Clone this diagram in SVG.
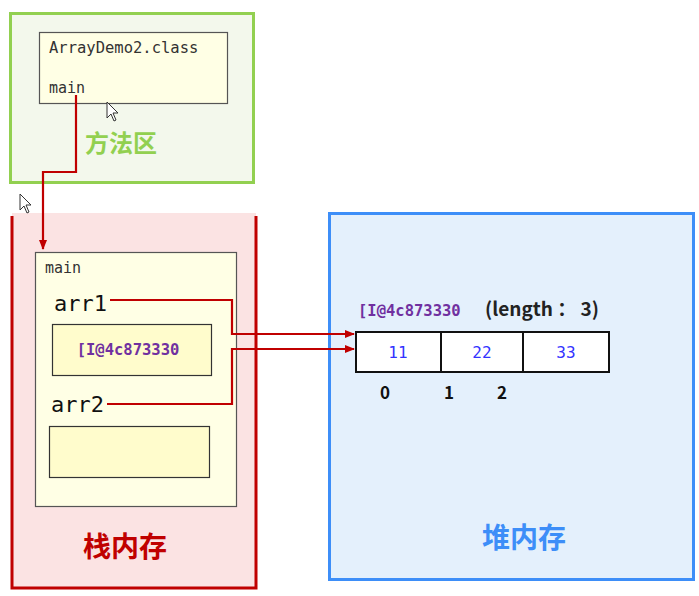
<svg xmlns="http://www.w3.org/2000/svg" width="699" height="596" viewBox="0 0 699 596">
<defs>
<style>
.mono{font-family:"DejaVu Sans Mono","Liberation Mono",monospace;}
.cjk{font-family:"Noto Sans CJK SC","Noto Sans",sans-serif;font-weight:bold;}
.frame{fill:#ffffe5;stroke:#555;stroke-width:1.2;}
.slot{fill:#fffccc;stroke:#333;stroke-width:1.2;}
.conn{fill:none;stroke:#c00000;stroke-width:2.2;}
.cell{fill:#fff;stroke:#111;stroke-width:2;}
</style>
<marker id="ah" markerWidth="10" markerHeight="8" refX="9" refY="4" orient="auto" markerUnits="userSpaceOnUse">
<path d="M0,0 L10,4 L0,8 Z" fill="#c00000"/>
</marker>
</defs>
<rect width="699" height="596" fill="#fff"/>
<g id="method-area">
<rect x="10.5" y="13.5" width="243" height="169" fill="#f3f8ec" stroke="#92d050" stroke-width="3"/>
<rect x="39.5" y="32.5" width="188" height="71" class="frame" stroke="#333"/>
<text x="49" y="53" class="mono" font-size="15.5" fill="#333">ArrayDemo2.class</text>
<text x="49" y="93" class="mono" font-size="15" fill="#333">main</text>
<text x="121" y="152" class="cjk" font-size="24" fill="#92d050" text-anchor="middle">方法区</text>
</g>
<g id="stack">
<rect x="12" y="213" width="244" height="375" fill="#fbe3e3"/>
<path d="M12,216 V588 H256 V216" fill="none" stroke="#c00000" stroke-width="3"/>
<text x="125" y="557" class="cjk" font-size="28" fill="#c00000" text-anchor="middle">栈内存</text>
</g>
<g id="main-frame">
<rect x="35.5" y="252.5" width="201" height="254" class="frame"/>
<text x="45" y="273" class="mono" font-size="15" fill="#333">main</text>
<text x="54" y="311" class="mono" font-size="22" fill="#111">arr1</text>
<rect x="52.5" y="324.5" width="159" height="51" class="slot"/>
<text x="128" y="355" class="mono" font-size="15.5" font-weight="bold" fill="#7030a0" text-anchor="middle">[I@4c873330</text>
<text x="51" y="412" class="mono" font-size="22" fill="#111">arr2</text>
<rect x="49.5" y="426.5" width="160" height="51" class="slot"/>
</g>
<g id="heap">
<rect x="329.5" y="213.5" width="364" height="366" fill="#e4f0fc" stroke="#3d8ef8" stroke-width="3"/>
<text x="524" y="548" class="cjk" font-size="28" fill="#3d8ef8" text-anchor="middle">堆内存</text>
</g>
<g id="array">
<text x="358" y="316" class="mono" font-size="15.5" font-weight="bold" fill="#7030a0">[I@4c873330</text>
<text x="485" y="316" class="cjk" font-size="19" fill="#222">(length ： 3)</text>
<rect x="356" y="332" width="85" height="40" class="cell"/>
<rect x="441" y="332" width="82" height="40" class="cell"/>
<rect x="523" y="332" width="86" height="40" class="cell"/>
<text x="398" y="358" class="mono" font-size="16" fill="#3333ff" text-anchor="middle">11</text>
<text x="482" y="358" class="mono" font-size="16" fill="#3333ff" text-anchor="middle">22</text>
<text x="566" y="358" class="mono" font-size="16" fill="#3333ff" text-anchor="middle">33</text>
<text x="385" y="399" class="cjk" font-size="17" fill="#111" text-anchor="middle">0</text>
<text x="449" y="399" class="cjk" font-size="17" fill="#111" text-anchor="middle">1</text>
<text x="502" y="399" class="cjk" font-size="17" fill="#111" text-anchor="middle">2</text>
</g>
<g id="connectors">
<path d="M76,95 V172 H43 V249" class="conn" stroke-width="3" marker-end="url(#ah)"/>
<path d="M110,300 H232 V334 H354" class="conn" marker-end="url(#ah)"/>
<path d="M107,404 H232 V349 H354" class="conn" marker-end="url(#ah)"/>
</g>
<g id="cursors">
<path d="M107,102 V118 L111,114 L114,121 L116,120 L113,113 L118,113 Z" fill="#fff" stroke="#333" stroke-width="1"/>
<path d="M20,194 V210 L24,206 L27,213 L29,212 L26,205 L31,205 Z" fill="#fff" stroke="#333" stroke-width="1"/>
</g>
</svg>
